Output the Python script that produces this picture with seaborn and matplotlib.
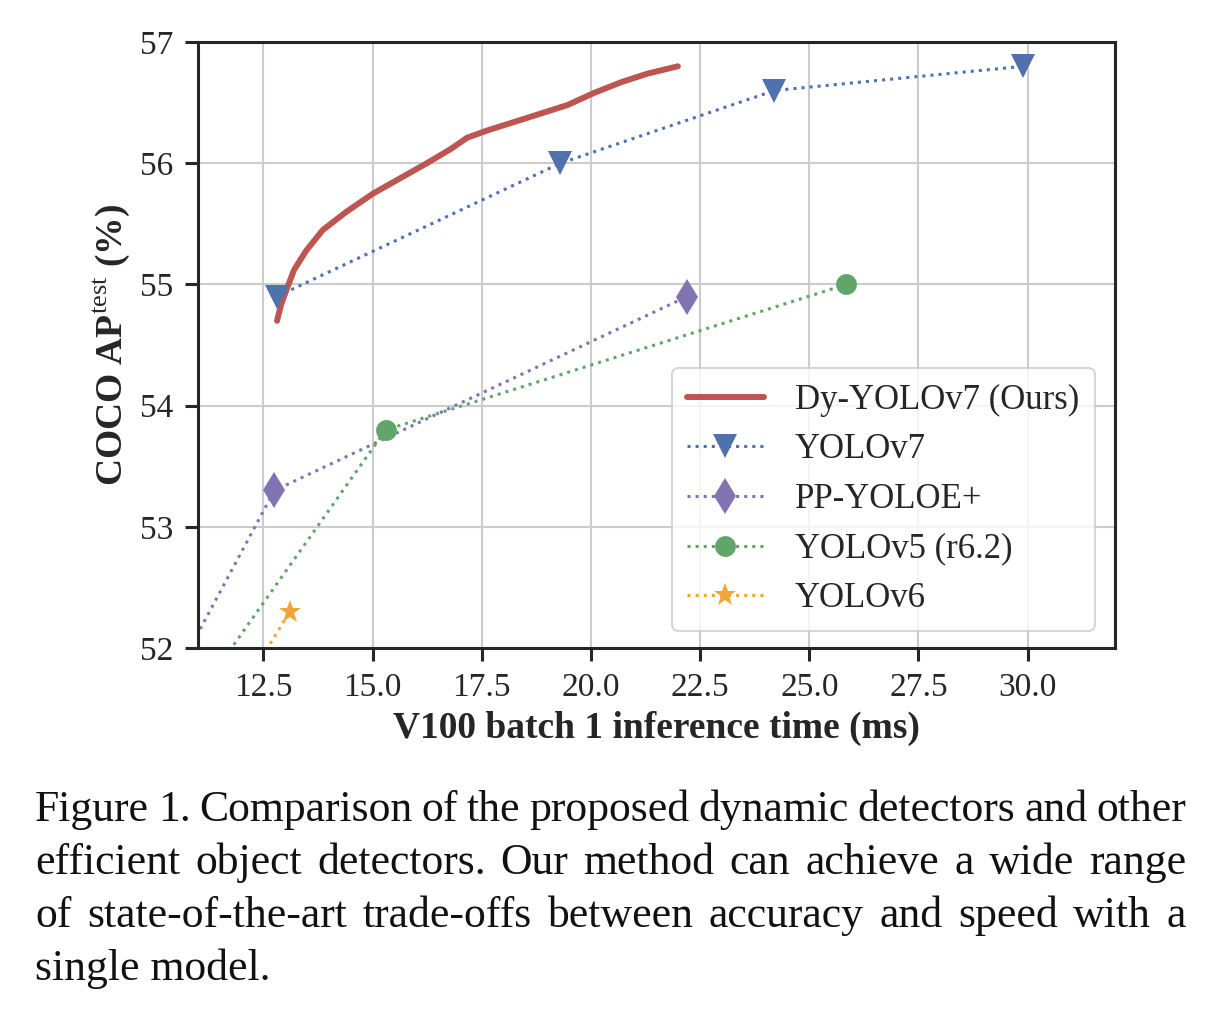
import numpy as np
import pandas as pd
import matplotlib
matplotlib.use('Agg')
import matplotlib.pyplot as plt
import seaborn as sns

# data
dy_time = [12.81, 12.9, 13.02, 13.2, 13.48, 13.86, 14.40, 15.01, 15.6, 16.24, 16.8,
           17.16, 17.62, 18.5, 19.46, 20.07, 20.7, 21.30, 21.99]
dy_ap = [54.70, 54.83, 54.95, 55.12, 55.28, 55.45, 55.60, 55.75, 55.87, 56.00, 56.12,
         56.21, 56.27, 56.37, 56.48, 56.58, 56.67, 56.74, 56.80]

v7_time = [12.8, 19.3, 24.2, 29.9]
v7_ap = [54.9, 56.0, 56.6, 56.8]

pp_time = [10.0, 12.75, 22.2]
pp_ap = [51.45, 53.3, 54.9]

v5_time = [10.0, 15.3, 25.85]
v5_ap = [51.1, 53.8, 55.0]

v6_time = [11.5, 13.1]
v6_ap = [51.35, 52.3]

x_ticks = [12.5, 15.0, 17.5, 20.0, 22.5, 25.0, 27.5, 30.0]
y_ticks = [52, 53, 54, 55, 56, 57]

caption = [
    "Figure 1. Comparison of the proposed dynamic detectors and other",
    "efficient object detectors.  Our method can achieve a wide range",
    "of state-of-the-art trade-offs between accuracy and speed with a",
    "single model.",
]

sns.set_theme(style='ticks')
plt.rcParams['font.family'] = ['Liberation Serif', 'DejaVu Serif']
plt.rcParams['mathtext.fontset'] = 'custom'
plt.rcParams['mathtext.rm'] = 'Liberation Serif'
plt.rcParams['mathtext.bf'] = 'Liberation Serif:bold'

fig = plt.figure(figsize=(12.32, 10.28), dpi=100)
ax = fig.add_axes([0.1607, 0.3696, 0.7443, 0.5895])

red = '#BD5551'
blue = '#5071AE'
purple = '#8274B1'
green = '#62A56B'
orange = '#F0A536'

series = [
    ('Dy-YOLOv7 (Ours)', dy_time, dy_ap, red, None, 0, '-', 4.3),
    ('YOLOv7', v7_time, v7_ap, blue, 'v', 17, ':', 2.2),
    ('PP-YOLOE+', pp_time, pp_ap, purple, 'd', 18, ':', 2.2),
    ('YOLOv5 (r6.2)', v5_time, v5_ap, green, 'o', 15, ':', 2.2),
    ('YOLOv6', v6_time, v6_ap, orange, '*', 17, ':', 2.2),
]

for name, xs, ys, col, mk, ms, ls, lw in series:
    d = pd.DataFrame({'t': xs, 'ap': ys})
    sns.lineplot(data=d, x='t', y='ap', ax=ax, color=col, marker=mk,
                 markersize=ms, markeredgewidth=0, linestyle=ls, linewidth=lw,
                 label=name, solid_capstyle='round', solid_joinstyle='round')

ax.set_xlim(11, 32)
ax.set_ylim(52, 57)
ax.set_xticks(x_ticks)
ax.set_yticks(y_ticks)
ax.set_xticklabels([f'{v:.1f}' for v in x_ticks])
ax.grid(True, color='#cccccc', linewidth=1.5)
ax.set_axisbelow(True)
for s in ax.spines.values():
    s.set_color('#262626')
    s.set_linewidth(2.2)
ax.tick_params(axis='both', labelsize=24, length=9.5, width=2.2, color='#262626',
               labelcolor='#262626', pad=8)

ax.set_xlabel('V100 batch 1 inference time (ms)', fontsize=27, fontweight='bold',
              color='#262626', labelpad=6)
ax.set_ylabel(r'COCO AP$^{\mathrm{test}}$ (%)', fontsize=27, fontweight='bold',
              color='#262626', labelpad=6)

leg = ax.legend(loc='lower right', fontsize=25, handlelength=2.2, frameon=True,
                borderpad=0.45, labelspacing=0.48, handletextpad=0.9,
                borderaxespad=0.0, bbox_to_anchor=(0.978, 0.028))
leg.get_frame().set_edgecolor('#cccccc')
leg.get_frame().set_linewidth(1.5)
for t in leg.get_texts():
    t.set_color('#262626')

# justified caption, word by word
W, H = fig.get_size_inches() * fig.dpi
x_left, x_right = 35, 1186
y_first = 810
pitch = 53
renderer = fig.canvas.get_renderer()
cap_size = 31.5
for i, line in enumerate(caption):
    y = 1 - (y_first + i * pitch) / H
    words = line.split()
    if i == len(caption) - 1:
        fig.text(x_left / W, y, line, fontsize=cap_size, color='#111111', va='center')
        continue
    arts = [fig.text(0, y, w_, fontsize=cap_size, color='#111111', va='center') for w_ in words]
    widths = [a.get_window_extent(renderer).width for a in arts]
    gap = (x_right - x_left - sum(widths)) / (len(words) - 1)
    x = x_left
    for a, wd in zip(arts, widths):
        a.set_x(x / W)
        x += wd + gap

fig.savefig('out.png', dpi=100)
